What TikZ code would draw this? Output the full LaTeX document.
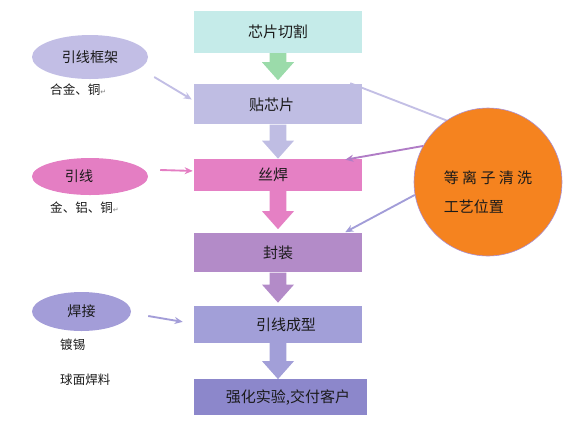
\documentclass[tikz,border=0pt]{standalone}
\usepackage{fontspec}
\setmainfont{Noto Sans CJK SC}
\newfontfamily\symfont{DejaVu Sans}
\usepackage{tikz}
\usetikzlibrary{shapes.geometric, arrows.meta, positioning, calc, backgrounds}
\definecolor{cutcol}{HTML}{C5EBE9}
\definecolor{arrowgreen}{HTML}{9BDBAA}
\definecolor{attachcol}{HTML}{BFBDE3}
\definecolor{bondcol}{HTML}{E580C4}
\definecolor{packcol}{HTML}{B38BC8}
\definecolor{formcol}{HTML}{A29FD8}
\definecolor{testcol}{HTML}{8C87CB}
\definecolor{framecol}{HTML}{C2BEE5}
\definecolor{wirecol}{HTML}{E47EC3}
\definecolor{weldcol}{HTML}{A39DD8}
\definecolor{plasmacol}{HTML}{F5831F}
\definecolor{plasmaedge}{HTML}{A98FD6}
\definecolor{attachlink}{HTML}{C3BFE5}
\definecolor{bondlink}{HTML}{B07CC6}
\definecolor{packlink}{HTML}{A29DD8}
\definecolor{textdark}{HTML}{1A1A1A}

\newcommand{\retmark}{{\symfont\fontsize{6}{6}\selectfont\color{gray}↵}}
\newcommand{\fatarrow}[4]{%
  \fill[#3] ($(#1.south)+(-0.25,0)$) -- ($(#1.south)+(0.25,0)$)
    |- ($(#1.south |- #2.north)+(0.25,#4+0.54)$) -- ++(0.23,0)
    -- ($(#1.south |- #2.north)+(0,#4)$)
    -- ($(#1.south |- #2.north)+(-0.48,#4+0.54)$) -- ++(0.23,0) -- cycle;}

\begin{document}
\begin{tikzpicture}[
  node distance=0.93cm,
  stage/.style={rectangle, fill=#1, minimum width=5.04cm, inner sep=0pt, text=textdark, font=\fontsize{12.8}{15}\selectfont},
  source/.style={ellipse, fill=#1, inner sep=0pt, text=textdark, font=\fontsize{12}{14}\selectfont},
  note/.style={anchor=west, inner sep=0pt, text=textdark, font=\fontsize{10.7}{13}\selectfont},
  link/.style={draw=#1, line width=1.6pt, -{Stealth[length=7pt,width=6pt]}}
]
  \useasboundingbox (0,0) rectangle (17.55,-12.63);

  % Process chain
  \node[stage=cutcol, minimum height=1.26cm] (cut) at (8.34,-0.96) {芯片切割};
  \node[stage=attachcol, minimum height=1.2cm, below=0.93cm of cut] (attach) {贴芯片\hspace*{0.39cm}};
  \node[stage=bondcol, minimum height=0.96cm, below=1.02cm of attach] (bond) {丝焊\hspace*{0.3cm}};
  \node[stage=packcol, minimum height=1.17cm, below=1.26cm of bond] (pack) {封装};
  \node[stage=formcol, minimum height=1.11cm, below=0.99cm of pack] (form) {\hspace*{0.48cm}引线成型};
  \node[stage=testcol, minimum height=1.08cm, minimum width=5.19cm, below=1.08cm of form, xshift=0.075cm] (test) {\hspace*{0.45cm}强化实验,交付客户};

  % Block arrows
  \fatarrow{cut}{attach}{arrowgreen}{0.12}
  \fatarrow{attach}{bond}{attachcol}{0}
  \fatarrow{bond}{pack}{bondcol}{0.12}
  \fatarrow{pack}{form}{packcol}{0.09}
  \fatarrow{form}{test}{formcol}{0}

  % Materials
  \node[source=framecol, minimum width=3.48cm, minimum height=1.32cm] (frame) at (2.7,-1.71) {引线框架};
  \node[note] (framenote) at (1.5,-2.7) {合金、铜\retmark};
  \node[source=wirecol, minimum width=3.48cm, minimum height=1.11cm] (wire) at (2.7,-5.295) {引线\hspace*{0.66cm}};
  \node[note] (wirenote) at (1.5,-6.24) {金、铝、铜\retmark};
  \node[source=weldcol, minimum width=2.97cm, minimum height=1.17cm] (weld) at (2.445,-9.345) {焊接};
  \node[note] (weldnote) at (1.8,-10.35) {镀锡};
  \node[note] (ballnote) at (1.8,-11.4) {球面焊料};

  \draw[link=framecol] ($(frame.east)+(0.18,-0.6)$) -- ($(attach.west)+(-0.06,0.15)$);
  \draw[link=wirecol] ($(wire.east)+(0.36,0.195)$) -- ($(bond.west)+(-0.03,0.12)$);
  \draw[link=weldcol] ($(weld.east)+(0.51,-0.135)$) -- ($(form.west)+(-0.33,0.075)$);

  % Plasma cleaning
  \node[circle, fill=plasmacol, draw=plasmaedge, line width=0.5pt, minimum size=4.44cm, inner sep=0pt] (plasma) at (14.64,-5.46) {};
  \node[align=left, inner sep=0pt, text=textdark, font=\fontsize{12.8}{24.7}\selectfont] (plasmalabel) at ($(plasma)+(0,-0.3)$) {等 离 子 清 洗\\工艺位置};

  \begin{scope}[on background layer]
    \draw[attachlink, line width=1.6pt] (plasma.124) -- ($(attach.north east)+(-0.36,0.03)$);
  \end{scope}
  \draw[link=bondlink] (plasma.151) -- ($(bond.north east)+(-0.51,-0.03)$);
  \draw[link=packlink] (plasma.190) -- ($(pack.north east)+(-0.51,0.03)$);
\end{tikzpicture}
\end{document}
